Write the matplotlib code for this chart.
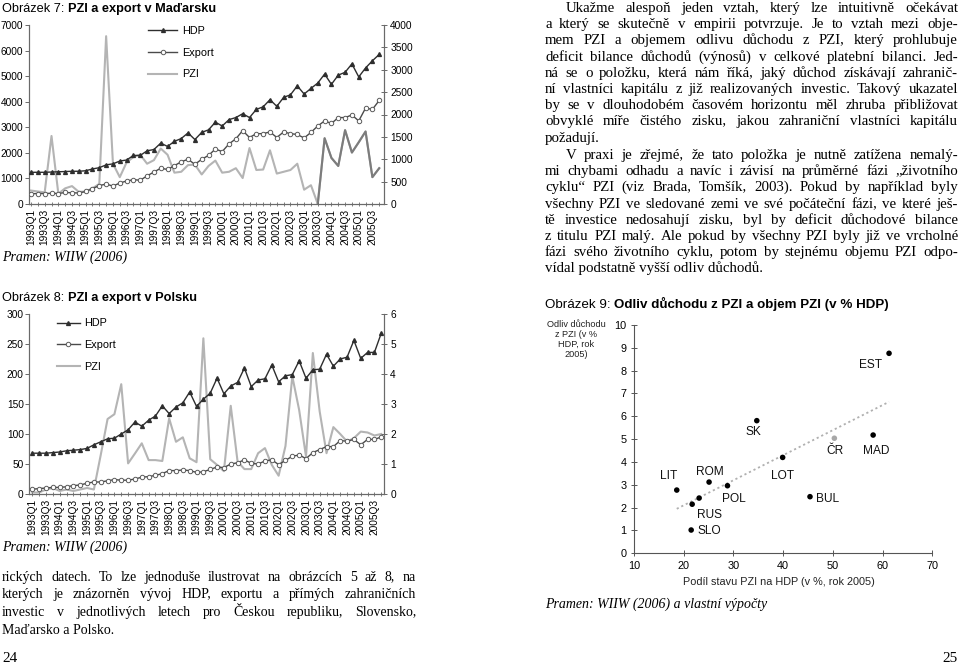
import math
import matplotlib
matplotlib.use('Agg')
import matplotlib.pyplot as plt
from matplotlib.font_manager import FontProperties
import numpy as np

W, H = 960, 668
SANS = 'Liberation Sans'
SERIF = 'Liberation Serif'

# ---------------- data ----------------
years = list(range(1993, 2006))
quarters = [f'{y}Q{q}' for y in years for q in range(1, 5)]

# Obrázek 7 - Maďarsko
hu_hdp = [1240, 1240, 1240, 1250, 1260, 1270, 1280, 1280, 1300, 1370, 1420, 1530,
          1570, 1680, 1720, 1900, 1900, 2080, 2130, 2380, 2250, 2450, 2560, 2780,
          2520, 2800, 2900, 3200, 3050, 3300, 3380, 3530, 3380, 3700, 3800, 4080,
          3820, 4170, 4270, 4620, 4300, 4520, 4730, 5080, 4680, 5040, 5150, 5480,
          4970, 5320, 5600, 5850]
hu_export = [400, 410, 410, 420, 410, 450, 440, 430, 490, 600, 720, 780,
             700, 820, 900, 950, 930, 1100, 1250, 1400, 1350, 1500, 1650, 1750,
             1550, 1750, 1900, 2150, 2050, 2350, 2550, 2870, 2600, 2750, 2750, 2820,
             2600, 2820, 2750, 2720, 2580, 2800, 3050, 3250, 3150, 3380, 3380, 3480,
             3250, 3750, 3700, 4050]
hu_pzi = [300, 280, 260, 1520, 230, 350, 400, 270, 280, 350, 450, 3750,
          900, 600, 930, 1050, 1100, 900, 980, 1240, 1100, 700, 720, 870,
          880, 660, 850, 970, 700, 720, 800, 580, 1250, 760, 770, 1200,
          680, 720, 760, 900, 320, 420, 0, 1470, 1030, 850, 1650, 1150,
          1380, 1620, 600, 800]

# Obrázek 8 - Polsko
pl_hdp = [68, 68, 68, 69, 70, 72, 73, 74, 76, 82, 87, 92,
          93, 100, 107, 120, 113, 123, 130, 147, 134, 145, 152, 170,
          146, 158, 168, 193, 167, 180, 186, 210, 179, 190, 192, 215,
          187, 197, 199, 222, 193, 207, 208, 233, 213, 225, 228, 256,
          226, 236, 236, 268]
pl_export = [8, 9, 10, 11, 11, 12, 14, 15, 18, 20, 20, 22,
             24, 23, 23, 25, 28, 29, 31, 34, 39, 39, 40, 39,
             36, 37, 41, 45, 44, 50, 52, 57, 51, 50, 55, 57,
             49, 56, 63, 65, 59, 69, 74, 79, 79, 89, 88, 91,
             82, 91, 91, 95]
pl_pzi = [0.05, 0.05, 0.15, 0.2, 0.1, 0.15, 0.1, 0.15, 0.2, 0.15, 1.3, 2.5,
          2.66, 3.66, 1.02, 1.35, 1.69, 1.13, 1.13, 1.1, 2.52, 1.74, 1.89, 1.19,
          1.06, 5.19, 1.16, 0.97, 0.76, 2.94, 1.08, 0.83, 0.83, 1.36, 1.53, 0.97,
          0.61, 1.6, 3.92, 2.8, 1.25, 4.7, 2.75, 1.36, 2.23, 2.0, 1.75, 1.86,
          2.08, 2.05, 1.95, 2.0]

# Obrázek 9 - scatter
countries = ['EST', 'SK', 'ČR', 'MAD', 'LOT', 'LIT', 'ROM', 'POL', 'BUL', 'RUS', '', 'SLO']
fdi_stock = [61.3, 34.7, 50.3, 58.1, 39.9, 18.6, 25.1, 28.8, 45.4, 23.1, 21.7, 21.5]
income_outflow = [8.76, 5.81, 5.04, 5.18, 4.2, 2.77, 3.12, 2.96, 2.48, 2.42, 2.15, 1.02]

# ---------------- figure ----------------
fig = plt.figure(figsize=(9.6, 6.68), dpi=100)
renderer = fig.canvas.get_renderer()


def fx(px):
    return px / W


def fy(py):
    return 1 - py / H


def metrics(s, fp):
    return renderer.get_text_width_height_descent(s, fp, ismath=False)


def put(x, ybase, s, fp, **kw):
    """Place text so that its glyph baseline lands exactly on pixel row ybase
    (compensates Agg's per-string rounding of the bitmap position)."""
    w, h, d = metrics(s, fp)
    yb = ybase + math.floor(h) - math.floor(h - d) - d
    return fig.text(fx(x), fy(yb), s, fontproperties=fp, va='baseline', **kw)


def title(x, y, prefix, bold, size=9.2):
    fp1 = FontProperties(family=SANS, size=size)
    fp2 = FontProperties(family=SANS, size=size, weight='bold')
    t = put(x, y, prefix, fp1)
    ext = t.get_window_extent(renderer)
    put(ext.x1, y, bold, fp2)


HDP_C = '#2e2e2e'
EXP_C = '#4a4a4a'
PZI_C = '#b4b4b4'
SPINE_C = '#6a6a6a'


def ts_chart(rect, hdp, exp, pzi, lmax, lstep, rmax, rstep, xlim, leg_anchor,
             handlelen, dark_from=None):
    ax = fig.add_axes(rect)
    axr = ax.twinx()
    x = np.arange(len(quarters))
    l3, = axr.plot(x, pzi, color=PZI_C, lw=1.5, zorder=1)
    if dark_from is not None:
        axr.plot(x[dark_from:], pzi[dark_from:], color='#7c7c7c', lw=1.5, zorder=2)
    l1, = ax.plot(x, hdp, color=HDP_C, lw=1.0, marker='^', ms=2.8,
                  mfc=HDP_C, mec=HDP_C, zorder=3)
    l2, = ax.plot(x, exp, color=EXP_C, lw=1.0, marker='o', ms=3.2,
                  mfc='white', mec='#5a5a5a', mew=0.7, zorder=3)
    ax.set_zorder(axr.get_zorder() + 1)
    ax.patch.set_visible(False)
    ax.set_xlim(*xlim)
    ax.set_ylim(0, lmax)
    axr.set_ylim(0, rmax)
    ax.set_yticks(np.arange(0, lmax + 1, lstep))
    rt = np.arange(0, rmax + 1e-9, rstep)
    axr.set_yticks(rt)
    axr.set_yticklabels([f'{int(v)}' for v in rt])
    ax.set_xticks(x)
    ax.set_xticklabels([q if i % 2 == 0 else '' for i, q in enumerate(quarters)],
                       rotation=90, fontsize=7.3, family=SANS)
    for a in (ax, axr):
        for s in a.spines.values():
            s.set_color(SPINE_C)
            s.set_linewidth(0.8)
        a.spines['top'].set_visible(False)
    ax.tick_params(axis='y', direction='out', length=3, width=0.7, color=SPINE_C,
                   labelsize=7.3, pad=1)
    axr.tick_params(axis='y', direction='inout', length=5, width=0.7, color=SPINE_C,
                    labelsize=7.3, pad=2)
    ax.tick_params(axis='x', direction='inout', length=3, width=0.6, color=SPINE_C, pad=2)
    for lab in ax.get_yticklabels() + axr.get_yticklabels():
        lab.set_family(SANS)
    ax.legend([l1, l2, l3], ['HDP', 'Export', 'PZI'], loc='upper left',
              bbox_to_anchor=leg_anchor, frameon=False,
              prop={'family': SANS, 'size': 7.8},
              handlelength=handlelen, handletextpad=0.45, labelspacing=1.08,
              borderpad=0, borderaxespad=0)
    return ax


fp_src = FontProperties(family=SERIF, style='italic', size=10)

# Obrázek 7
title(2, 12, 'Obrázek 7: ', 'PZI a export v Maďarsku')
ts_chart([fx(28.5), fy(204), 355.5 / W, 179 / H], hu_hdp, hu_export, hu_pzi,
         7000, 1000, 4000, 500, (-0.37, 51.7),
         ((148 - 28.5) / 355.5, 0.995), 2.7, dark_from=42)
put(2, 261, 'Pramen: WIIW (2006)', fp_src)

# Obrázek 8
title(2, 301, 'Obrázek 8: ', 'PZI a export v Polsku')
ts_chart([fx(29.3), fy(494), 354.7 / W, 180 / H], pl_hdp, pl_export, pl_pzi,
         300, 50, 6, 1, (-0.44, 51.4),
         ((57 - 29.3) / 354.7, 0.975), 2.1)
put(2, 551, 'Pramen: WIIW (2006)', fp_src)

# Obrázek 9
title(545, 308, 'Obrázek 9: ', 'Odliv důchodu z PZI a objem PZI (v % HDP)', size=9.6)
ax9 = fig.add_axes([fx(634), fy(553.3), (932.3 - 634) / W, (553.3 - 325) / H])
colors = ['#a8a8a8' if c == 'ČR' else 'black' for c in countries]
ax9.scatter(fdi_stock, income_outflow, s=16, c=colors, zorder=3, linewidths=0)
coef = np.polyfit(fdi_stock, income_outflow, 1)
xt = np.array([min(fdi_stock), max(fdi_stock)])
ax9.plot(xt, np.polyval(coef, xt), color='#b0b0b0', lw=1.3, ls=(0, (1.2, 1.6)), zorder=2)
label_offsets = {'EST': (-19, -12), 'SK': (-3, -11), 'ČR': (1, -13), 'MAD': (3.5, -16),
                 'LOT': (-0.5, -18.5), 'LIT': (-8, 14), 'ROM': (1, 10.5), 'POL': (6, -13),
                 'BUL': (17.5, -2.3), 'RUS': (10, -17.3), 'SLO': (18, -1)}
for c, xv, yv in zip(countries, fdi_stock, income_outflow):
    if not c:
        continue
    dx, dy = label_offsets[c]
    ax9.annotate(c, (xv, yv), xytext=(dx * 0.72, dy * 0.72), textcoords='offset points',
                 ha='center', va='center', fontsize=8.6, family=SANS, color='#111111')
ax9.set_xlim(10, 70)
ax9.set_ylim(0, 10)
ax9.set_xticks(range(10, 71, 10))
ax9.set_yticks(range(0, 11))
for s in ('top', 'right'):
    ax9.spines[s].set_visible(False)
for s in ('left', 'bottom'):
    ax9.spines[s].set_color('#555555')
    ax9.spines[s].set_linewidth(0.8)
ax9.tick_params(direction='inout', length=5, width=0.7, color='#555555', labelsize=7.8,
                pad=3)
for lab in ax9.get_xticklabels() + ax9.get_yticklabels():
    lab.set_family(SANS)
fig.text(fx(576), fy(320), 'Odliv důchodu\nz PZI (v %\nHDP, rok\n2005)', family=SANS,
         fontsize=6.6, ha='center', va='top', linespacing=1.15, color='#222222')
fig.text(fx(779), fy(582), 'Podíl stavu PZI na HDP (v %, rok 2005)', family=SANS,
         fontsize=7.8, ha='center', va='center', color='#222222')
put(545, 608, 'Pramen: WIIW (2006) a vlastní výpočty', fp_src)


# ---------------- body text (justified, word by word) ----------------
def justify(lines, x0, x1, y0, dy, size, indent=0.0, last_left=True):
    fp = FontProperties(family=SERIF, size=size)
    for k, line in enumerate(lines):
        y = round(y0 + k * dy)
        xs = x0 + (indent if k == 0 else 0)
        words = line.split(' ')
        if (k == len(lines) - 1 and last_left) or len(words) == 1:
            put(xs, y, line, fp)
            continue
        widths = [metrics(wd, fp)[0] for wd in words]
        gap = (x1 - xs - sum(widths)) / (len(words) - 1)
        xc = xs
        for wd, ww in zip(words, widths):
            put(xc, y, wd, fp)
            xc += ww + gap


para1 = [
    'Ukažme alespoň jeden vztah, který lze intuitivně očekávat',
    'a který se skutečně v empirii potvrzuje. Je to vztah mezi obje-',
    'mem PZI a objemem odlivu důchodu z PZI, který prohlubuje',
    'deficit bilance důchodů (výnosů) v celkové platební bilanci. Jed-',
    'ná se o položku, která nám říká, jaký důchod získávají zahranič-',
    'ní vlastníci kapitálu z již realizovaných investic. Takový ukazatel',
    'by se v dlouhodobém časovém horizontu měl zhruba přibližovat',
    'obvyklé míře čistého zisku, jakou zahraniční vlastníci kapitálu',
    'požadují.',
]
para2 = [
    'V praxi je zřejmé, že tato položka je nutně zatížena nemalý-',
    'mi chybami odhadu a navíc i závisí na průměrné fázi „životního',
    'cyklu“ PZI (viz Brada, Tomšík, 2003). Pokud by například byly',
    'všechny PZI ve sledované zemi ve své počáteční fázi, ve které ješ-',
    'tě investice nedosahují zisku, byl by deficit důchodové bilance',
    'z titulu PZI malý. Ale pokud by všechny PZI byly již ve vrcholné',
    'fázi svého životního cyklu, potom by stejnému objemu PZI odpo-',
    'vídal podstatně vyšší odliv důchodů.',
]
para3 = [
    'rických datech. To lze jednoduše ilustrovat na obrázcích 5 až 8, na',
    'kterých je znázorněn vývoj HDP, exportu a přímých zahraničních',
    'investic v jednotlivých letech pro Českou republiku, Slovensko,',
    'Maďarsko a Polsko.',
]
justify(para1, 545, 958, 12, 16.2, 10.7, indent=21)
justify(para2, 545, 958, 159, 16.2, 10.7, indent=21)
justify(para3, 2, 416, 581, 17.5, 10)

fp_num = FontProperties(family=SERIF, size=11)
put(2, 662, '24', fp_num)
put(958, 662, '25', fp_num, ha='right')

fig.savefig('out.png', dpi=100)
